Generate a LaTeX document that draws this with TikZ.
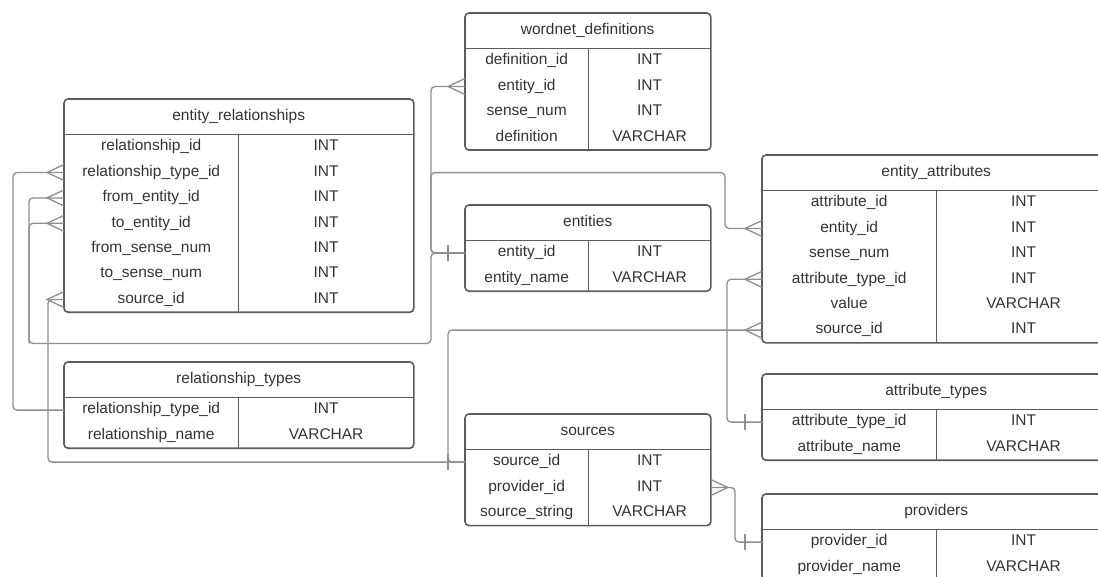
\documentclass[tikz,border=0pt]{standalone}
\usepackage{fontspec}
\setmainfont{Liberation Sans}
\usetikzlibrary{positioning}
\definecolor{boxgray}{HTML}{5C5C5C}
\definecolor{linkgray}{HTML}{8E8E8E}
\definecolor{txtgray}{HTML}{333333}

\begin{document}
\begin{tikzpicture}[
            x = 1pt, y = -1pt, % pixel grid, y runs downwards
            every node/.style = {inner sep=0pt, text=txtgray, text height=11.2pt,
                                 text depth=3.5pt, font=\fontsize{15.5}{18}\selectfont},
            head/.style = {minimum height=35pt, anchor=north west},
            cell/.style = {minimum height=25pt},
            wide/.style = {minimum width=174pt},
            narrow/.style = {minimum width=123pt},
            table/.style = {draw=boxgray, line width=1.6pt, rounded corners=4pt},
            rule/.style = {draw=boxgray, line width=1.6pt},
            link/.style = {draw=linkgray, line width=1.3pt, rounded corners=4pt},
            crowW/.pic = {\draw[link, sharp corners] (0,-8) -- (-17,0) -- (0,8);},
            crowE/.pic = {\draw[link, sharp corners] (0,-8) -- (17,0) -- (0,8);},
            barW/.pic = {\draw[link, sharp corners] (-17,-8) -- (-17,8);}
        ]

    \useasboundingbox (0,0) rectangle (1098,576);

    % entity_relationships
    \node[head, minimum width=349pt] (er) at (64,99) {entity\_relationships};
    \node[cell, wide, below right=0pt of er.south west] (er-relid) {relationship\_id};
    \node[cell, minimum width=175pt, right=0pt of er-relid] (er-relid-t) {INT};
    \node[cell, wide, below=0pt of er-relid] (er-reltype) {relationship\_type\_id};
    \node[cell, minimum width=175pt, right=0pt of er-reltype] (er-reltype-t) {INT};
    \node[cell, wide, below=0pt of er-reltype] (er-from) {from\_entity\_id};
    \node[cell, minimum width=175pt, right=0pt of er-from] (er-from-t) {INT};
    \node[cell, wide, below=0pt of er-from] (er-to) {to\_entity\_id};
    \node[cell, minimum width=175pt, right=0pt of er-to] (er-to-t) {INT};
    \node[cell, wide, below=0pt of er-to] (er-fsense) {from\_sense\_num};
    \node[cell, minimum width=175pt, right=0pt of er-fsense] (er-fsense-t) {INT};
    \node[cell, wide, below=0pt of er-fsense] (er-tsense) {to\_sense\_num};
    \node[cell, minimum width=175pt, right=0pt of er-tsense] (er-tsense-t) {INT};
    \node[cell, wide, below=0pt of er-tsense] (er-source) {source\_id};
    \node[cell, minimum width=175pt, right=0pt of er-source] (er-source-t) {INT};
    \draw[table] (er.north west) rectangle (er-source-t.south east);
    \draw[rule] (er.south west) -- (er.south east);
    \draw[rule] (er-relid.north east) -- (er-source.south east);

    % relationship_types
    \node[head, minimum width=349pt] (rt) at (64,362) {relationship\_types};
    \node[cell, wide, below right=0pt of rt.south west] (rt-id) {relationship\_type\_id};
    \node[cell, minimum width=175pt, right=0pt of rt-id] (rt-id-t) {INT};
    \node[cell, wide, below=0pt of rt-id] (rt-name) {relationship\_name};
    \node[cell, minimum width=175pt, right=0pt of rt-name] (rt-name-t) {VARCHAR};
    \draw[table] (rt.north west) rectangle (rt-name-t.south east);
    \draw[rule] (rt.south west) -- (rt.south east);
    \draw[rule] (rt-id.north east) -- (rt-name.south east);

    % wordnet_definitions
    \node[head, minimum width=245pt] (wd) at (465,13) {wordnet\_definitions};
    \node[cell, narrow, below right=0pt of wd.south west] (wd-defid) {definition\_id};
    \node[cell, minimum width=122pt, right=0pt of wd-defid] (wd-defid-t) {INT};
    \node[cell, narrow, below=0pt of wd-defid] (wd-eid) {entity\_id};
    \node[cell, minimum width=122pt, right=0pt of wd-eid] (wd-eid-t) {INT};
    \node[cell, narrow, below=0pt of wd-eid] (wd-sense) {sense\_num};
    \node[cell, minimum width=122pt, right=0pt of wd-sense] (wd-sense-t) {INT};
    \node[cell, narrow, below=0pt of wd-sense] (wd-def) {definition};
    \node[cell, minimum width=122pt, right=0pt of wd-def] (wd-def-t) {VARCHAR};
    \draw[table] (wd.north west) rectangle (wd-def-t.south east);
    \draw[rule] (wd.south west) -- (wd.south east);
    \draw[rule] (wd-defid.north east) -- (wd-def.south east);

    % entities
    \node[head, minimum width=245pt] (en) at (465,205) {entities};
    \node[cell, narrow, below right=0pt of en.south west] (en-id) {entity\_id};
    \node[cell, minimum width=122pt, right=0pt of en-id] (en-id-t) {INT};
    \node[cell, narrow, below=0pt of en-id] (en-name) {entity\_name};
    \node[cell, minimum width=122pt, right=0pt of en-name] (en-name-t) {VARCHAR};
    \draw[table] (en.north west) rectangle (en-name-t.south east);
    \draw[rule] (en.south west) -- (en.south east);
    \draw[rule] (en-id.north east) -- (en-name.south east);

    % sources
    \node[head, minimum width=245pt] (src) at (465,414) {sources};
    \node[cell, narrow, below right=0pt of src.south west] (src-id) {source\_id};
    \node[cell, minimum width=122pt, right=0pt of src-id] (src-id-t) {INT};
    \node[cell, narrow, below=0pt of src-id] (src-pv) {provider\_id};
    \node[cell, minimum width=122pt, right=0pt of src-pv] (src-pv-t) {INT};
    \node[cell, narrow, below=0pt of src-pv] (src-str) {source\_string};
    \node[cell, minimum width=122pt, right=0pt of src-str] (src-str-t) {VARCHAR};
    \draw[table] (src.north west) rectangle (src-str-t.south east);
    \draw[rule] (src.south west) -- (src.south east);
    \draw[rule] (src-id.north east) -- (src-str.south east);

    % entity_attributes
    \node[head, minimum width=348pt] (ea) at (762,155) {entity\_attributes};
    \node[cell, wide, below right=0pt of ea.south west] (ea-id) {attribute\_id};
    \node[cell, wide, right=0pt of ea-id] (ea-id-t) {INT};
    \node[cell, wide, below=0pt of ea-id] (ea-eid) {entity\_id};
    \node[cell, wide, right=0pt of ea-eid] (ea-eid-t) {INT};
    \node[cell, wide, below=0pt of ea-eid] (ea-sense) {sense\_num};
    \node[cell, wide, right=0pt of ea-sense] (ea-sense-t) {INT};
    \node[cell, wide, below=0pt of ea-sense] (ea-type) {attribute\_type\_id};
    \node[cell, wide, right=0pt of ea-type] (ea-type-t) {INT};
    \node[cell, wide, below=0pt of ea-type] (ea-val) {value};
    \node[cell, wide, right=0pt of ea-val] (ea-val-t) {VARCHAR};
    \node[cell, wide, below=0pt of ea-val] (ea-src) {source\_id};
    \node[cell, wide, right=0pt of ea-src] (ea-src-t) {INT};
    \draw[table] (ea.north west) rectangle (ea-src-t.south east);
    \draw[rule] (ea.south west) -- (ea.south east);
    \draw[rule] (ea-id.north east) -- (ea-src.south east);

    % attribute_types
    \node[head, minimum width=348pt] (at) at (762,374) {attribute\_types};
    \node[cell, wide, below right=0pt of at.south west] (at-id) {attribute\_type\_id};
    \node[cell, wide, right=0pt of at-id] (at-id-t) {INT};
    \node[cell, wide, below=0pt of at-id] (at-name) {attribute\_name};
    \node[cell, wide, right=0pt of at-name] (at-name-t) {VARCHAR};
    \draw[table] (at.north west) rectangle (at-name-t.south east);
    \draw[rule] (at.south west) -- (at.south east);
    \draw[rule] (at-id.north east) -- (at-name.south east);

    % providers
    \node[head, minimum width=348pt] (pv) at (762,494) {providers};
    \node[cell, wide, below right=0pt of pv.south west] (pv-id) {provider\_id};
    \node[cell, wide, right=0pt of pv-id] (pv-id-t) {INT};
    \node[cell, wide, below=0pt of pv-id] (pv-name) {provider\_name};
    \node[cell, wide, right=0pt of pv-name] (pv-name-t) {VARCHAR};
    \draw[table] (pv.north west) rectangle (pv-name-t.south east);
    \draw[rule] (pv.south west) -- (pv.south east);
    \draw[rule] (pv-id.north east) -- (pv-name.south east);

    % relations
    \coordinate (split) at (29,343.5);
    \draw[link] (en-id.west) -- ++(-34,0) |- (wd-eid.west);
    \draw[link] (en-id.west) -- ++(-34,0) -- ++(0,-80.5) -| ([xshift=-37pt]ea-eid.west) -- (ea-eid.west);
    \draw[link] (en-id.west) -- ++(-34,0) |- (split) |- (er-from.west);
    \draw[link] (split) |- (er-to.west);
    \draw[link] (rt-id.west) -- ++(-51,0) |- (er-reltype.west);
    \draw[link] (src-id.west) -- ++(-417,0) |- (er-source.west);
    \draw[link] (src-id.west) -- ++(-17,0) |- (ea-src.west);
    \draw[link] (at-id.west) -- ++(-35,0) |- (ea-type.west);
    \draw[link] (pv-id.west) -- ++(-27,0) |- (src-pv-t.east);

    \pic at (wd-eid.west) {crowW};
    \pic at (ea-eid.west) {crowW};
    \pic at (er-from.west) {crowW};
    \pic at (er-to.west) {crowW};
    \pic at (er-reltype.west) {crowW};
    \pic at (er-source.west) {crowW};
    \pic at (ea-src.west) {crowW};
    \pic at (ea-type.west) {crowW};
    \pic at (src-pv-t.east) {crowE};
    \pic at (en-id.west) {barW};
    \pic at (src-id.west) {barW};
    \pic at (at-id.west) {barW};
    \pic at (pv-id.west) {barW};

\end{tikzpicture}
\end{document}
